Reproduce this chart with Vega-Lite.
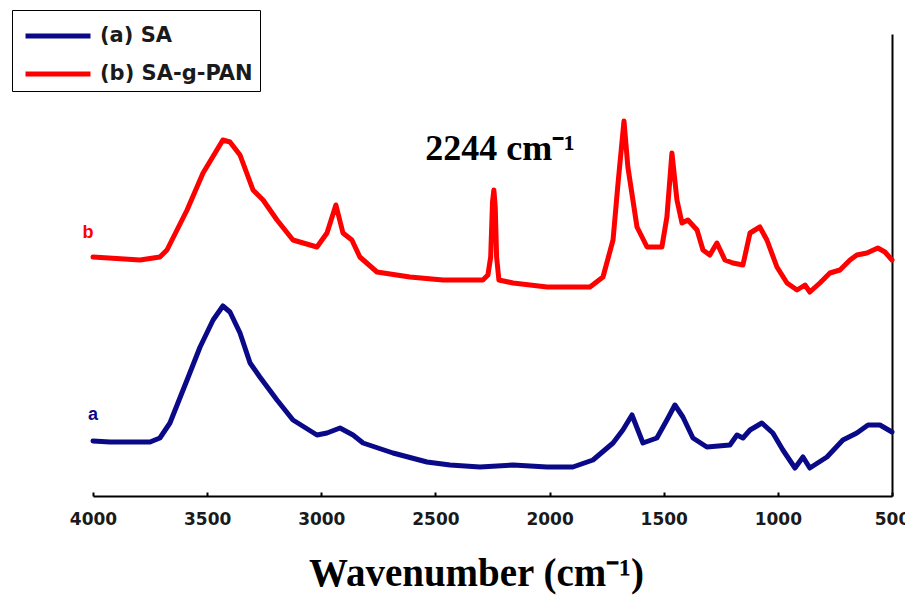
{
  "$schema": "https://vega.github.io/schema/vega-lite/v6.json",
  "width": 799,
  "height": 462,
  "autosize": {"type": "none"},
  "padding": {"left": 93, "top": 34, "right": 13, "bottom": 110},
  "background": "white",
  "config": {"view": {"stroke": null}},
  "datasets": {
    "spectra": [
      {"series": "(b) SA-g-PAN", "wn": 4000, "abs": 240},
      {"series": "(b) SA-g-PAN", "wn": 3794, "abs": 237},
      {"series": "(b) SA-g-PAN", "wn": 3707, "abs": 240},
      {"series": "(b) SA-g-PAN", "wn": 3676, "abs": 247},
      {"series": "(b) SA-g-PAN", "wn": 3588, "abs": 287},
      {"series": "(b) SA-g-PAN", "wn": 3518, "abs": 324},
      {"series": "(b) SA-g-PAN", "wn": 3431, "abs": 357},
      {"series": "(b) SA-g-PAN", "wn": 3400, "abs": 355},
      {"series": "(b) SA-g-PAN", "wn": 3356, "abs": 342},
      {"series": "(b) SA-g-PAN", "wn": 3299, "abs": 307},
      {"series": "(b) SA-g-PAN", "wn": 3255, "abs": 297},
      {"series": "(b) SA-g-PAN", "wn": 3194, "abs": 277},
      {"series": "(b) SA-g-PAN", "wn": 3124, "abs": 257},
      {"series": "(b) SA-g-PAN", "wn": 3019, "abs": 250},
      {"series": "(b) SA-g-PAN", "wn": 2975, "abs": 264},
      {"series": "(b) SA-g-PAN", "wn": 2936, "abs": 292},
      {"series": "(b) SA-g-PAN", "wn": 2905, "abs": 264},
      {"series": "(b) SA-g-PAN", "wn": 2866, "abs": 257},
      {"series": "(b) SA-g-PAN", "wn": 2831, "abs": 240},
      {"series": "(b) SA-g-PAN", "wn": 2756, "abs": 225},
      {"series": "(b) SA-g-PAN", "wn": 2612, "abs": 220},
      {"series": "(b) SA-g-PAN", "wn": 2467, "abs": 217},
      {"series": "(b) SA-g-PAN", "wn": 2292, "abs": 217},
      {"series": "(b) SA-g-PAN", "wn": 2270, "abs": 222},
      {"series": "(b) SA-g-PAN", "wn": 2258, "abs": 240},
      {"series": "(b) SA-g-PAN", "wn": 2250, "abs": 295},
      {"series": "(b) SA-g-PAN", "wn": 2244, "abs": 307},
      {"series": "(b) SA-g-PAN", "wn": 2238, "abs": 290},
      {"series": "(b) SA-g-PAN", "wn": 2232, "abs": 240},
      {"series": "(b) SA-g-PAN", "wn": 2222, "abs": 217},
      {"series": "(b) SA-g-PAN", "wn": 2160, "abs": 214},
      {"series": "(b) SA-g-PAN", "wn": 2011, "abs": 210},
      {"series": "(b) SA-g-PAN", "wn": 1823, "abs": 210},
      {"series": "(b) SA-g-PAN", "wn": 1766, "abs": 220},
      {"series": "(b) SA-g-PAN", "wn": 1722, "abs": 257},
      {"series": "(b) SA-g-PAN", "wn": 1700, "abs": 314},
      {"series": "(b) SA-g-PAN", "wn": 1674, "abs": 376},
      {"series": "(b) SA-g-PAN", "wn": 1657, "abs": 330},
      {"series": "(b) SA-g-PAN", "wn": 1617, "abs": 270},
      {"series": "(b) SA-g-PAN", "wn": 1573, "abs": 250},
      {"series": "(b) SA-g-PAN", "wn": 1508, "abs": 250},
      {"series": "(b) SA-g-PAN", "wn": 1486, "abs": 280},
      {"series": "(b) SA-g-PAN", "wn": 1464, "abs": 344},
      {"series": "(b) SA-g-PAN", "wn": 1442, "abs": 297},
      {"series": "(b) SA-g-PAN", "wn": 1420, "abs": 274},
      {"series": "(b) SA-g-PAN", "wn": 1394, "abs": 277},
      {"series": "(b) SA-g-PAN", "wn": 1354, "abs": 267},
      {"series": "(b) SA-g-PAN", "wn": 1328, "abs": 247},
      {"series": "(b) SA-g-PAN", "wn": 1298, "abs": 242},
      {"series": "(b) SA-g-PAN", "wn": 1267, "abs": 254},
      {"series": "(b) SA-g-PAN", "wn": 1232, "abs": 237},
      {"series": "(b) SA-g-PAN", "wn": 1197, "abs": 234},
      {"series": "(b) SA-g-PAN", "wn": 1153, "abs": 232},
      {"series": "(b) SA-g-PAN", "wn": 1122, "abs": 264},
      {"series": "(b) SA-g-PAN", "wn": 1079, "abs": 270},
      {"series": "(b) SA-g-PAN", "wn": 1048, "abs": 257},
      {"series": "(b) SA-g-PAN", "wn": 1004, "abs": 230},
      {"series": "(b) SA-g-PAN", "wn": 960, "abs": 214},
      {"series": "(b) SA-g-PAN", "wn": 916, "abs": 207},
      {"series": "(b) SA-g-PAN", "wn": 881, "abs": 212},
      {"series": "(b) SA-g-PAN", "wn": 860, "abs": 205},
      {"series": "(b) SA-g-PAN", "wn": 816, "abs": 214},
      {"series": "(b) SA-g-PAN", "wn": 772, "abs": 224},
      {"series": "(b) SA-g-PAN", "wn": 728, "abs": 227},
      {"series": "(b) SA-g-PAN", "wn": 684, "abs": 237},
      {"series": "(b) SA-g-PAN", "wn": 654, "abs": 242},
      {"series": "(b) SA-g-PAN", "wn": 610, "abs": 244},
      {"series": "(b) SA-g-PAN", "wn": 562, "abs": 249},
      {"series": "(b) SA-g-PAN", "wn": 531, "abs": 245},
      {"series": "(b) SA-g-PAN", "wn": 500, "abs": 237},
      {"series": "(a) SA", "wn": 4000, "abs": 56},
      {"series": "(a) SA", "wn": 3926, "abs": 55},
      {"series": "(a) SA", "wn": 3750, "abs": 55},
      {"series": "(a) SA", "wn": 3707, "abs": 59},
      {"series": "(a) SA", "wn": 3663, "abs": 74},
      {"series": "(a) SA", "wn": 3588, "abs": 117},
      {"series": "(a) SA", "wn": 3531, "abs": 150},
      {"series": "(a) SA", "wn": 3474, "abs": 177},
      {"series": "(a) SA", "wn": 3431, "abs": 191},
      {"series": "(a) SA", "wn": 3400, "abs": 185},
      {"series": "(a) SA", "wn": 3356, "abs": 164},
      {"series": "(a) SA", "wn": 3312, "abs": 134},
      {"series": "(a) SA", "wn": 3269, "abs": 120},
      {"series": "(a) SA", "wn": 3194, "abs": 97},
      {"series": "(a) SA", "wn": 3124, "abs": 77},
      {"series": "(a) SA", "wn": 3019, "abs": 62},
      {"series": "(a) SA", "wn": 2975, "abs": 64},
      {"series": "(a) SA", "wn": 2918, "abs": 69},
      {"series": "(a) SA", "wn": 2861, "abs": 62},
      {"series": "(a) SA", "wn": 2817, "abs": 54},
      {"series": "(a) SA", "wn": 2686, "abs": 44},
      {"series": "(a) SA", "wn": 2537, "abs": 35},
      {"series": "(a) SA", "wn": 2436, "abs": 32},
      {"series": "(a) SA", "wn": 2305, "abs": 30},
      {"series": "(a) SA", "wn": 2160, "abs": 32},
      {"series": "(a) SA", "wn": 2011, "abs": 30},
      {"series": "(a) SA", "wn": 1898, "abs": 30},
      {"series": "(a) SA", "wn": 1810, "abs": 37},
      {"series": "(a) SA", "wn": 1722, "abs": 54},
      {"series": "(a) SA", "wn": 1679, "abs": 67},
      {"series": "(a) SA", "wn": 1639, "abs": 82},
      {"series": "(a) SA", "wn": 1591, "abs": 54},
      {"series": "(a) SA", "wn": 1530, "abs": 59},
      {"series": "(a) SA", "wn": 1486, "abs": 77},
      {"series": "(a) SA", "wn": 1451, "abs": 92},
      {"series": "(a) SA", "wn": 1416, "abs": 80},
      {"series": "(a) SA", "wn": 1372, "abs": 59},
      {"series": "(a) SA", "wn": 1311, "abs": 50},
      {"series": "(a) SA", "wn": 1210, "abs": 52},
      {"series": "(a) SA", "wn": 1179, "abs": 62},
      {"series": "(a) SA", "wn": 1153, "abs": 59},
      {"series": "(a) SA", "wn": 1122, "abs": 67},
      {"series": "(a) SA", "wn": 1070, "abs": 74},
      {"series": "(a) SA", "wn": 1022, "abs": 64},
      {"series": "(a) SA", "wn": 978, "abs": 47},
      {"series": "(a) SA", "wn": 925, "abs": 29},
      {"series": "(a) SA", "wn": 890, "abs": 40},
      {"series": "(a) SA", "wn": 860, "abs": 29},
      {"series": "(a) SA", "wn": 785, "abs": 40},
      {"series": "(a) SA", "wn": 715, "abs": 57},
      {"series": "(a) SA", "wn": 654, "abs": 64},
      {"series": "(a) SA", "wn": 605, "abs": 72},
      {"series": "(a) SA", "wn": 553, "abs": 72},
      {"series": "(a) SA", "wn": 500, "abs": 65}
    ],
    "curveLabels": [
      {"series": "(b) SA-g-PAN", "wn": 4022, "abs": 264, "text": "b"},
      {"series": "(a) SA", "wn": 4000, "abs": 82, "text": "a"}
    ],
    "annotation": [
      {"wn": 2545, "abs": 337, "text": "2244 cm⁻¹"}
    ]
  },
  "layer": [
    {
      "data": {"name": "spectra"},
      "mark": {"type": "line", "strokeWidth": 5, "strokeJoin": "round", "strokeCap": "round"},
      "encoding": {
        "x": {
          "field": "wn", "type": "quantitative",
          "scale": {"domain": [500, 4000], "reverse": true, "nice": false, "zero": false},
          "axis": {
            "values": [4000, 3500, 3000, 2500, 2000, 1500, 1000, 500],
            "format": "d",
            "grid": false,
            "domainColor": "black", "domainWidth": 2,
            "tickColor": "black", "tickWidth": 2, "tickSize": -4,
            "labelFont": "DejaVu Sans", "labelFontWeight": "bold", "labelFontSize": 17,
            "labelColor": "#1a1a1a", "labelPadding": 19, "labelBaseline": "top",
            "labelOverlap": false, "labelFlush": false,
            "title": "Wavenumber  (cm⁻¹)",
            "titleFont": "Liberation Serif", "titleFontWeight": "bold", "titleFontSize": 39,
            "titleColor": "black", "titleX": 383, "titleY": 89, "titleBaseline": "alphabetic", "titleAlign": "center"
          }
        },
        "y": {
          "field": "abs", "type": "quantitative",
          "scale": {"domain": [1, 463], "nice": false, "zero": false},
          "axis": {"orient": "right", "labels": false, "ticks": false, "grid": false, "title": null,
                   "domainColor": "black", "domainWidth": 2}
        },
        "color": {
          "field": "series", "type": "nominal",
          "scale": {"domain": ["(a) SA", "(b) SA-g-PAN"], "range": ["#0a0a88", "#ff0000"]},
          "legend": {
            "title": null, "orient": "none", "legendX": -81, "legendY": -24,
            "symbolType": "M-2,0H2", "symbolSize": 1056, "symbolStrokeWidth": 5,
            "symbolOffset": 20, "labelOffset": 23,
            "labelFont": "DejaVu Sans", "labelFontWeight": "bold", "labelFontSize": 21,
            "labelColor": "#1a1a1a",
            "strokeColor": "black", "fillColor": "white", "padding": 7, "rowPadding": 9
          }
        }
      }
    },
    {
      "data": {"name": "curveLabels"},
      "mark": {"type": "text", "font": "Liberation Sans", "fontSize": 18, "fontWeight": "bold", "align": "center", "baseline": "middle"},
      "encoding": {
        "x": {"field": "wn", "type": "quantitative"},
        "y": {"field": "abs", "type": "quantitative"},
        "text": {"field": "text"},
        "color": {"field": "series", "type": "nominal", "legend": null}
      }
    },
    {
      "data": {"name": "annotation"},
      "mark": {"type": "text", "font": "Liberation Serif", "fontSize": 36, "fontWeight": "bold", "align": "left", "baseline": "alphabetic", "color": "black"},
      "encoding": {
        "x": {"field": "wn", "type": "quantitative"},
        "y": {"field": "abs", "type": "quantitative"},
        "text": {"field": "text"}
      }
    }
  ]
}
